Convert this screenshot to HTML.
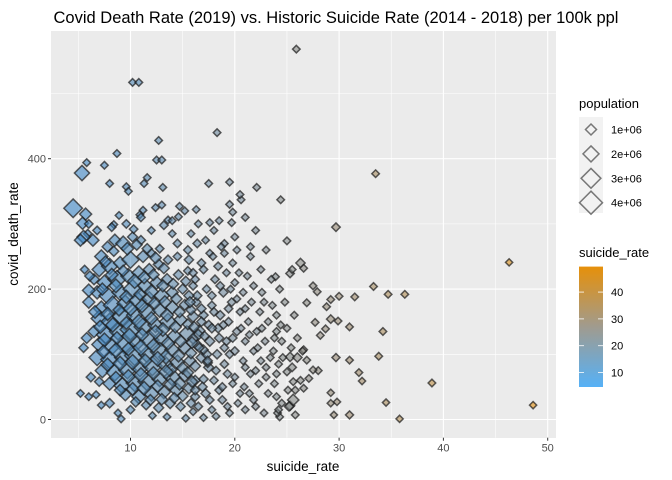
<!DOCTYPE html>
<html><head><meta charset="utf-8"><style>
html,body{margin:0;padding:0;background:#fff;}
svg{display:block;font-family:"Liberation Sans",sans-serif;}
</style></head><body>
<svg id="chart" width="672" height="480" viewBox="0 0 672 480">
<defs>
<linearGradient id="cbar" x1="0" y1="1" x2="0" y2="0">
<stop offset="0" stop-color="#56b1f7"/><stop offset="0.5" stop-color="#a09b8f"/><stop offset="1" stop-color="#e6900a"/>
</linearGradient>
</defs>
<text x="336" y="23" text-anchor="middle" font-size="16.5" fill="#000">Covid Death Rate (2019) vs. Historic Suicide Rate (2014 - 2018) per 100k ppl</text>
<rect x="51" y="31" width="505" height="407" fill="#ebebeb"/>
<g id="grid"></g>
<g id="points"></g>
<g id="axes"></g>
<text x="303" y="471" text-anchor="middle" font-size="13.5">suicide_rate</text>
<text transform="translate(18,234) rotate(-90)" text-anchor="middle" font-size="13.5">covid_death_rate</text>
<g>
<text x="579" y="108" font-size="13">population</text>
<rect x="579" y="117" width="24" height="96" fill="#f2f2f2"/>
<g id="sizeKeys"></g>
</g>
<g>
<text x="579" y="257" font-size="13">suicide_rate</text>
<rect x="579" y="266.6" width="24" height="120.4" fill="url(#cbar)"/>
<g id="cbTicks"></g>
</g>
</svg>
<script>
const xTicks=[10,20,30,40,50];
const xMinor=[5,15,25,35,45];
const yTicks=[0,200,400];
const yMinor=[100,300,500];
const popKeys=[1,2,3,4];
const popLabels=["1e+06","2e+06","3e+06","4e+06"];
const cbTickVals=[10,20,30,40];
const suicideRate=[];const covidRate=[];const population=[];
const pts=[
[33.5,377,0.4],[24.4,337,0.4],[29.7,295,0.5],[25.0,274,0.4],[46.3,241,0.35],[26.3,240,0.6],[26.6,232,0.4],[25.3,224,0.5],[23.9,219,0.4],[27.5,205,0.4],[27.9,196,0.4],[33.3,204,0.4],[34.7,192,0.4],[36.3,192,0.4],[31.5,188,0.4],[30.0,189,0.4],[29.2,184,0.4],[28.8,173,0.4],[26.9,179,0.4],[25.7,160,0.4],[29.2,154,0.5],[29.9,151,0.4],[27.7,149,0.4],[31.0,142,0.4],[34.2,135,0.4],[28.7,139,0.4],[28.2,129,0.4],[29.7,95,0.45],[31.0,91,0.4],[33.8,97,0.4],[31.9,72,0.4],[32.2,59,0.35],[38.9,56,0.4],[48.6,22,0.35],[34.5,26,0.35],[35.8,1,0.35],[31.0,7,0.45],[29.5,7,0.35],[29.2,41,0.35],[29.8,27,0.35],[29.2,25,0.35],[26.6,48,0.4],[27.1,63,0.4],[25.3,21,0.6],[25.8,7,0.4],[24.3,4,0.4],[24.1,10,0.4],[28.0,75,0.4],[27.5,76,0.4],[26.9,91,0.4],[26.6,107,0.4],[25.3,96,0.6],[25.0,73,0.4],[25.6,58,0.4],[25.1,45,0.4],[24.0,35,0.4],
[25.9,568,0.4],[10.2,517,0.4],[10.8,517,0.4],[18.3,440,0.4],[12.7,428,0.4],[8.7,408,0.4],[12.5,398,0.4],[13.0,398,0.4],[5.8,394,0.4],[7.5,390,0.4],[5.35,378,1.6],[8.0,362,0.4],[11.6,371,0.4],[11.3,362,0.4],[9.6,357,0.4],[9.8,350,0.4],[13.1,356,0.4],[17.5,362,0.4],[19.5,364,0.4],[22.1,356,0.4],[20.6,337,0.4],[4.5,324,2.4],[5.7,315,1.0],[5.4,301,1.0],[8.9,313,0.4],[8.4,299,0.4],[11.2,321,0.4],[10.9,314,0.4],[12.4,325,0.4],[13.0,329,0.4],[14.7,327,0.4],[19.8,318,0.4],[13.6,306,0.4],[14.6,311,0.4],[19.7,302,0.4],[17.6,302,0.4],
[7.2,250,1.2],[7.8,265,0.8],[8.5,275,1.0],[9.3,270,1.5],[10.2,280,0.7],[11,275,0.6],[7,230,1.4],[8,235,1.8],[9,240,1.2],[10,245,2.0],[11.2,250,1.0],[12,255,0.6],[12.8,262,0.5],[6.5,215,0.8],[7.5,210,1.5],[8.7,215,2.2],[9.8,220,1.6],[10.8,225,1.3],[11.8,230,1.0],[12.7,238,0.8],[13.6,245,0.6],[14.5,250,0.5],[6.8,195,1.2],[7.8,190,2.0],[9,195,1.8],[10.2,200,2.5],[11.4,205,1.5],[12.5,210,1.2],[13.5,215,0.9],[14.6,222,0.7],[15.5,228,0.5],[6,180,1.0],[7.2,170,1.6],[8.3,175,2.4],[9.5,178,1.9],[10.7,182,2.2],[11.8,185,1.4],[13,190,1.6],[14,195,1.0],[15,200,0.7],[16,205,0.5],[7,155,1.8],[8,150,2.0],[9.2,158,2.6],[10.4,160,1.8],[11.6,165,2.0],[12.8,168,1.5],[14,172,1.3],[15.2,176,0.8],[16.3,180,0.6],[6.5,135,1.0],[7.6,130,2.2],[8.8,135,2.0],[10,138,3.0],[11.2,142,2.2],[12.4,145,1.6],[13.6,150,2.0],[14.8,153,1.2],[16,158,0.9],[7,115,1.5],[8.2,112,2.0],[9.4,115,2.4],[10.6,118,1.8],[11.8,122,2.6],[13,125,1.8],[14.2,128,1.4],[15.4,132,1.6],[16.6,136,0.9],[6.8,95,1.8],[8,92,2.2],[9.2,95,1.6],[10.4,98,2.8],[11.6,100,2.0],[12.8,104,2.4],[14,107,1.5],[15.2,110,1.2],[16.4,114,0.8],[7.3,75,1.4],[8.5,72,2.0],[9.7,76,2.2],[10.9,78,1.8],[12.1,82,2.6],[13.3,85,1.8],[14.5,88,1.4],[15.7,90,1.0],[8,55,1.2],[9.2,52,1.8],[10.4,56,2.0],[11.6,58,2.4],[12.8,62,1.6],[14,65,2.0],[15.2,68,1.2],[9.5,38,1.0],[10.8,35,1.4],[12,40,1.6],[13.2,42,1.2],[14.4,46,1.4],[15.6,48,0.9],[11.5,22,0.6],[12.7,18,0.7],[13.8,25,0.8],[14.8,20,0.6],
[5.2,40,0.4],[6,35,0.4],[6.7,38,0.4],[7.2,22,0.4],[9.1,1,0.4],[12.1,6,0.4],[13.5,4,0.4],[6.2,65,0.6],[5.8,125,0.8],[5.5,110,0.6],[6,300,0.5],[6.4,275,1.0],[5.9,285,0.5],[5.5,280,1.2],[5.2,275,1.0],[6.8,290,0.5],[8.2,295,0.5],[9.6,300,0.5],[11,310,0.5],[10.3,292,0.5],[12,290,0.4],[13.2,298,0.5],[14,285,0.4],[14.5,270,0.5],[6.1,220,0.7],[6,198,1.1],[5.6,230,0.5],[7,58,0.6],[8,25,0.6],[10,15,0.5],[8.8,10,0.4],
[16.5,20,0.5],[17.2,40,0.6],[18,60,0.5],[18.8,30,0.5],[17.5,80,0.7],[18.3,100,0.6],[19,85,0.5],[19.8,55,0.4],[20.5,40,0.4],[16.8,95,0.8],[17.6,120,0.7],[18.4,140,0.6],[19.2,120,0.5],[20,105,0.5],[20.8,90,0.4],[21.5,70,0.4],[17,160,0.6],[17.8,175,0.5],[18.6,160,0.6],[19.4,150,0.5],[20.2,135,0.5],[21,120,0.4],[21.8,105,0.4],[22.5,90,0.4],[17.3,200,0.5],[18.1,215,0.5],[18.9,195,0.6],[19.7,180,0.5],[20.5,165,0.4],[21.3,150,0.4],[22.1,135,0.4],[22.9,120,0.4],[23.7,105,0.4],[16.8,240,0.5],[17.6,255,0.4],[18.4,235,0.5],[19.2,225,0.4],[20,210,0.4],[20.8,195,0.4],[21.6,180,0.4],[22.4,165,0.4],[23.2,150,0.4],[24,135,0.4],[17.2,275,0.4],[18,290,0.4],[19,270,0.4],[20.2,260,0.4],[21.5,250,0.4],[16.5,300,0.4],[15.8,285,0.4],[15.5,260,0.5],[22.5,230,0.4],[23.5,215,0.4],[24.3,200,0.4],[24.8,180,0.4],[24,160,0.4],[25,140,0.4],[24.5,120,0.4],[25.4,110,0.4],[23,80,0.4],[24,70,0.4],[22.3,55,0.4],[23.2,40,0.4],[21.8,30,0.4],[21,15,0.4],[22.8,10,0.4],[19.5,10,0.4],[18.2,5,0.4],[17,3,0.4],[15.3,2,0.4],[16,12,0.4],[20.3,25,0.4],[24.5,25,0.4],[24.2,15,0.4],[23.8,55,0.4],[22.8,180,0.4],[21.2,220,0.4],[19.8,240,0.4],[16,225,0.5],[16.4,190,0.6],[16.8,170,0.6],[17.5,145,0.6],[18.5,125,0.6],[19.5,100,0.5],[19.3,70,0.5],[18.5,45,0.5],[17.8,15,0.4],[16.2,60,0.7],[16.2,35,0.6],[17.3,100,0.7],[16.5,130,0.8],[19,255,0.4],[20,280,0.4],[18.5,305,0.4],[21.5,265,0.4],[23,260,0.4],[22,290,0.4],[21,310,0.4],[20.5,345,0.4],[19.5,330,0.4],[15.2,320,0.4],[16.3,322,0.4],[14,305,0.4],[25.5,230,0.4],[26,95,0.6],[25.5,80,0.5],[26.3,60,0.4],[25.8,45,0.4],[25.6,30,0.9],[25.2,20,0.6],[26.5,105,0.4],[26,125,0.4],
[7.6,242,0.9],[8.4,258,0.7],[9.7,262,1.1],[10.6,268,0.8],[11.6,262,0.7],[12.4,248,0.9],[13.2,232,0.8],[8.2,222,1.1],[9.3,228,0.9],[10.4,212,1.4],[11.3,218,1.1],[12.2,222,0.9],[13.1,205,1.0],[14.1,208,0.8],[7.3,200,1.0],[8.6,205,1.3],[9.6,188,1.2],[10.9,192,1.0],[12,196,1.3],[13.3,180,1.1],[14.4,185,0.9],[15.6,190,0.7],[6.6,165,1.1],[7.8,162,1.2],[8.9,168,1.0],[10,170,1.4],[11.1,174,1.2],[12.3,178,1.0],[13.5,160,1.2],[14.7,165,0.9],[15.8,168,0.7],[7.1,142,1.2],[8.3,145,1.4],[9.6,148,1.1],[10.8,150,1.5],[12,155,1.2],[13.1,138,1.3],[14.3,142,1.0],[15.5,146,0.8],[16.8,150,0.6],[7.5,122,1.3],[8.7,125,1.1],[9.9,128,1.6],[11.1,130,1.2],[12.4,134,1.4],[13.6,117,1.2],[14.8,120,1.0],[16,124,0.8],[17.1,128,0.6],[7.4,104,1.2],[8.6,106,1.5],[9.8,108,1.2],[11,110,1.7],[12.2,113,1.3],[13.4,96,1.4],[14.6,98,1.1],[15.8,102,0.9],[17,107,0.6],[7.8,84,1.2],[9,86,1.4],[10.2,88,1.6],[11.4,90,1.3],[12.6,93,1.5],[13.8,76,1.2],[15,79,1.0],[16.2,82,0.8],[17.4,87,0.6],[8.6,64,1.1],[9.8,66,1.3],[11,68,1.5],[12.2,71,1.2],[13.4,73,1.4],[14.7,55,1.1],[15.9,58,0.9],[17,62,0.6],[9,45,0.9],[10.2,47,1.1],[11.3,48,1.3],[12.6,51,1.1],[13.8,54,1.0],[15,36,0.8],[16.2,45,0.6],[10.5,27,0.7],[11.9,30,0.8],[13,31,0.9],[14.2,33,0.8],[15.8,25,0.6],
[16.2,215,0.5],[17,230,0.5],[17.8,190,0.5],[18.6,205,0.5],[19.4,170,0.5],[20.2,185,0.4],[21,170,0.4],[16.6,110,0.6],[17.4,90,0.6],[18.2,75,0.5],[19,110,0.5],[19.8,125,0.5],[20.6,140,0.4],[21.4,130,0.4],[22.2,110,0.4],[21,80,0.4],[20,65,0.4],[18.8,50,0.5],[17.6,30,0.5],[19.3,20,0.4],[20.9,50,0.4],[22,75,0.4],[22.6,140,0.4],[23.4,95,0.4],[23,65,0.4],[22,20,0.4],[21.4,40,0.4],[17.9,250,0.4],[18.7,265,0.4],[16.4,270,0.5],[15.6,245,0.6],[15.3,212,0.7],[15.7,180,0.8],[16.1,142,0.8],[15.9,118,0.9],[15.5,72,0.9],[16.9,50,0.6],[17.8,140,0.6],[18.9,145,0.5],[18,165,0.5],[19.6,200,0.4],[20.4,225,0.4],[21.8,205,0.4],[22.6,195,0.4],[23.6,175,0.4],[24.4,145,0.4],[23.8,125,0.4],[24.6,95,0.4],[24.2,85,0.4]
];
pts.forEach(p=>{suicideRate.push(p[0]);covidRate.push(p[1]);population.push(p[2]);});

const NS="http://www.w3.org/2000/svg";
const X0=51,X1=556,Y0=31,Y1=437.7;
const xs=v=>130.5+(v-10)*10.43;
const ys=v=>419.5-v*0.652;
const cmin=4.6,cmax=49.5;
const cbY=v=>387-(v-cmin)/(cmax-cmin)*120.4;
const sz=p=>Math.max(3.6,6*Math.sqrt(p));
function col(v){
  let t=Math.max(0,Math.min(1,(v-cmin)/(cmax-cmin)));
  const a=[60,135,200],m=[140,138,132],b=[230,144,10];
  let c=t<0.5?a.map((x,i)=>x+(m[i]-x)*t*2):m.map((x,i)=>x+(b[i]-x)*(t-0.5)*2);
  return "rgb("+c.map(Math.round).join(",")+")";
}
function mk(tag,attrs,parent){const e=document.createElementNS(NS,tag);for(const k in attrs)e.setAttribute(k,attrs[k]);parent.appendChild(e);return e;}
const grid=document.getElementById("grid"),axes=document.getElementById("axes"),ptsG=document.getElementById("points");
xMinor.forEach(v=>{const l=mk("line",{x1:xs(v),x2:xs(v),y1:Y0,y2:Y1,stroke:"#fff","stroke-width":0.55},grid);});
yMinor.forEach(v=>{const l=mk("line",{x1:X0,x2:X1,y1:ys(v),y2:ys(v),stroke:"#fff","stroke-width":0.55},grid);});
xTicks.forEach(v=>{const l=mk("line",{x1:xs(v),x2:xs(v),y1:Y0,y2:Y1,stroke:"#fff","stroke-width":1.1},grid);
  const t=mk("line",{x1:xs(v),x2:xs(v),y1:Y1,y2:Y1+3,stroke:"#333","stroke-width":1},axes);
  const tx=mk("text",{x:xs(v),y:Y1+14,"text-anchor":"middle","font-size":11,fill:"#4d4d4d"},axes);tx.textContent=v;});
yTicks.forEach(v=>{const l=mk("line",{x1:X0,x2:X1,y1:ys(v),y2:ys(v),stroke:"#fff","stroke-width":1.1},grid);
  const t=mk("line",{x1:X0-3,x2:X0,y1:ys(v),y2:ys(v),stroke:"#333","stroke-width":1},axes);
  const tx=mk("text",{x:X0-5,y:ys(v)+4,"text-anchor":"end","font-size":11,fill:"#4d4d4d"},axes);tx.textContent=v;});
for(let i=0;i<suicideRate.length;i++){
  const cx=xs(suicideRate[i]),cy=ys(covidRate[i]),r=sz(population[i]);
  const d=mk("polygon",{points:`${cx},${cy-r} ${cx+r},${cy} ${cx},${cy+r} ${cx-r},${cy}`,fill:col(suicideRate[i]),"fill-opacity":0.6,stroke:"#1a1a1a","stroke-opacity":0.7,"stroke-width":1.5},ptsG);
  
  
}
const sk=document.getElementById("sizeKeys");
popKeys.forEach((p,i)=>{const cy=129.5+i*24.4,cx=591,r=6*Math.sqrt(p)-0.5;
  const d=mk("polygon",{points:`${cx},${cy-r} ${cx+r},${cy} ${cx},${cy+r} ${cx-r},${cy}`,fill:"none",stroke:"#777","stroke-width":1.5},sk);
  
  const t=mk("text",{x:611,y:cy+4,"font-size":11,fill:"#000"},sk);t.textContent=popLabels[i];
  });
const cb=document.getElementById("cbTicks");
cbTickVals.forEach(v=>{const y=cbY(v);
  const a=mk("line",{x1:579,x2:584,y1:y,y2:y,stroke:"#fff","stroke-width":0.8},cb);
  const b=mk("line",{x1:598,x2:603,y1:y,y2:y,stroke:"#fff","stroke-width":0.8},cb);
  const t=mk("text",{x:611,y:y+4,"font-size":11,fill:"#000"},cb);t.textContent=v;});
</script>
</body></html>
